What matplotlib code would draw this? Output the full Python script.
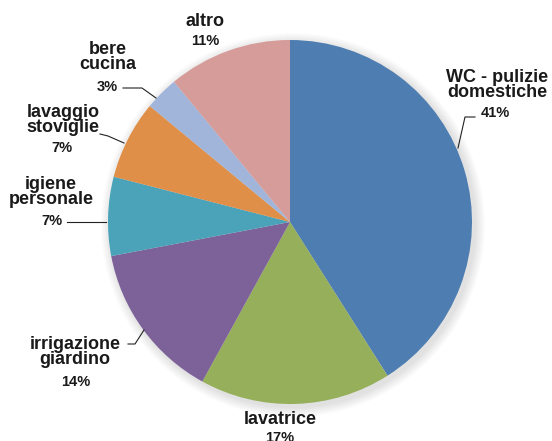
import matplotlib.pyplot as plt
from matplotlib.patches import Circle

# data
labels = ['WC - pulizie\ndomestiche', 'lavatrice', 'irrigazione\ngiardino',
          'igiene\npersonale', 'lavaggio\nstoviglie', 'bere\ncucina', 'altro']
values = [41, 17, 14, 7, 7, 3, 11]
colors = ['#4E7DB1', '#96AF5B', '#7C6298', '#4BA3B9', '#E08F48', '#A1B5DA', '#D69C9A']

W, H = 552, 441


def px(x, y):
    # pixel position (from top-left) -> data coords
    return x, H - y


# label layout in pixels: name centre, pct centre
name_pos = [(497, 85), (280, 420), (75, 352), (51, 192), (63, 120), (108, 57), (205, 21)]
pct_pos = [(495, 113), (280, 438), (76, 382), (52, 221), (62, 148), (107, 87), (205, 41)]
leaders = [
    [(475, 117), (465, 117), (458, 148)],
    None,
    [(128, 344), (135, 344), (144, 330)],
    [(67, 222), (106, 222)],
    [(100, 134), (108, 136), (124, 143)],
    [(123, 88), (142, 88), (156, 98)],
    None,
]

plt.rcParams['font.family'] = ['Liberation Sans', 'DejaVu Sans']

fig = plt.figure(figsize=(W / 100, H / 100), dpi=100)
ax = fig.add_axes([0, 0, 1, 1])

cx, cy = px(290, 222)
R = 182

# soft shadow
for k in range(10):
    ax.add_patch(Circle((cx + 3, cy - 3), R + 10 - k, color='black', alpha=0.013,
                        lw=0, zorder=0))

ax.pie(values, colors=colors, startangle=90, counterclock=False,
       center=(cx, cy), radius=R, frame=True,
       wedgeprops=dict(linewidth=0))
ax.set_xlim(0, W)
ax.set_ylim(0, H)
ax.set_aspect('equal')
ax.axis('off')

for lab, v, (nx, ny), (qx, qy), ld in zip(labels, values, name_pos, pct_pos, leaders):
    ax.text(*px(nx, ny), lab, ha='center', va='center', fontsize=13,
            fontweight='bold', color='#1a1a1a', linespacing=0.9)
    ax.text(*px(qx, qy), f'{v}%', ha='center', va='center', fontsize=10.5,
            fontweight='bold', color='#1a1a1a')
    if ld:
        xs, ys = zip(*[px(a, b) for a, b in ld])
        ax.plot(xs, ys, color='#222222', lw=0.8)

fig.savefig('out.png', dpi=100)
